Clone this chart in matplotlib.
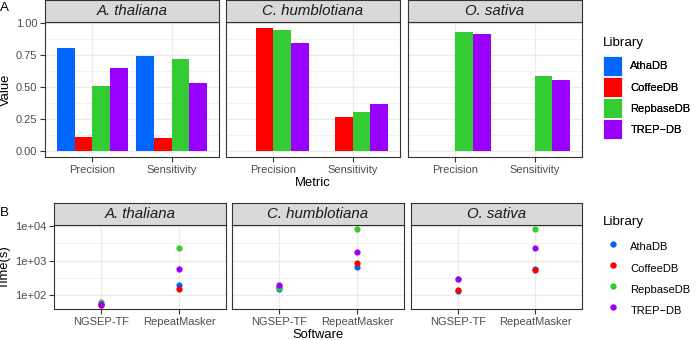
import matplotlib
matplotlib.use("Agg")
import matplotlib.pyplot as plt
import numpy as np
from matplotlib.patches import Patch
from matplotlib.lines import Line2D
from matplotlib.ticker import FixedLocator, NullFormatter

plt.rcParams['font.family'] = ['Liberation Sans', 'DejaVu Sans']

# Data
species = ['A. thaliana', 'C. humblotiana', 'O. sativa']
libraries = ['AthaDB', 'CoffeeDB', 'RepbaseDB', 'TREP-DB']
lib_labels = ['AthaDB', 'CoffeeDB', 'RepbaseDB', 'TREP\u2212DB']
metrics = ['Precision', 'Sensitivity']
software = ['NGSEP-TF', 'RepeatMasker']

# panel A values: [precision, sensitivity] per library, per species
atha_vals = {'AthaDB': [0.805, 0.743], 'CoffeeDB': [0.109, 0.104],
             'RepbaseDB': [0.507, 0.714], 'TREP-DB': [0.649, 0.530]}
chum_vals = {'AthaDB': [0.0, 0.0], 'CoffeeDB': [0.961, 0.263],
             'RepbaseDB': [0.943, 0.300], 'TREP-DB': [0.839, 0.366]}
osat_vals = {'AthaDB': [0.0, 0.0], 'CoffeeDB': [0.0, 0.0],
             'RepbaseDB': [0.927, 0.582], 'TREP-DB': [0.914, 0.553]}

# panel B times (s): [NGSEP-TF, RepeatMasker] per library, per species
atha_time = {'AthaDB': [52, 202], 'CoffeeDB': [51, 155],
             'RepbaseDB': [65, 2300], 'TREP-DB': [56, 563]}
chum_time = {'AthaDB': [150, 662], 'CoffeeDB': [170, 855],
             'RepbaseDB': [165, 8300], 'TREP-DB': [190, 1808]}
osat_time = {'AthaDB': [130, 575], 'CoffeeDB': [142, 518],
             'RepbaseDB': [285, 8200], 'TREP-DB': [287, 2250]}

values = [atha_vals, chum_vals, osat_vals]
times = [atha_time, chum_time, osat_time]

colors = {'AthaDB': '#0066FF', 'CoffeeDB': '#FF0000',
          'RepbaseDB': '#33CC33', 'TREP-DB': '#9900FF'}

W, H = 699, 340
fig = plt.figure(figsize=(W / 100, H / 100), dpi=100)


def px_axes(l, t, r, b):
    return fig.add_axes([l / W, 1 - b / H, (r - l) / W, (b - t) / H])


grid_c = '#EBEBEB'
edge_c = '#333333'
tick_c = '#4D4D4D'


def style_panel(ax):
    for s in ax.spines.values():
        s.set_color(edge_c)
        s.set_linewidth(0.8)
    ax.set_axisbelow(True)
    ax.grid(True, which='major', color=grid_c, lw=0.9)
    ax.grid(True, which='minor', color=grid_c, lw=0.5)
    ax.tick_params(which='major', length=3.5, width=0.8, color=edge_c,
                   labelcolor=tick_c, labelsize=8, pad=2)
    ax.tick_params(which='minor', length=0)


def strip(l, t, r, b, text):
    sax = px_axes(l, t, r, b)
    sax.set_facecolor('#D9D9D9')
    sax.set_xticks([])
    sax.set_yticks([])
    for s in sax.spines.values():
        s.set_color(edge_c)
        s.set_linewidth(0.8)
    sax.text(0.5, 0.48, text, ha='center', va='center', style='italic',
             fontsize=10.8, color='#1A1A1A', transform=sax.transAxes)


# ---- Panel A: bars ----
a_cols = [(45, 219), (226, 400), (408, 582)]
a_top, a_strip, a_bot = 0, 21.7, 157
width = 0.225
offsets = (np.arange(len(libraries)) - 1.5) * width
x = np.arange(len(metrics))
amax = max(max(v) for d in values for v in d.values())

for i, (l, r) in enumerate(a_cols):
    ax = px_axes(l, a_strip, r, a_bot)
    style_panel(ax)
    for j, lib in enumerate(libraries):
        ax.bar(x + offsets[j], values[i][lib], width, color=colors[lib], lw=0)
    ax.set_xlim(-0.6, 1.6)
    ax.set_ylim(-0.05 * amax, amax * 1.05)
    ax.set_xticks(x)
    ax.set_xticklabels(metrics)
    ax.yaxis.set_major_locator(FixedLocator([0, 0.25, 0.5, 0.75, 1.0]))
    ax.yaxis.set_minor_locator(FixedLocator([0.125, 0.375, 0.625, 0.875]))
    if i == 0:
        ax.set_yticklabels(['0.00', '0.25', '0.50', '0.75', '1.00'])
        ax.set_ylabel('Value', fontsize=9.4, labelpad=3)
    else:
        ax.tick_params(axis='y', which='both', left=False, labelleft=False)
    if i == 1:
        ax.set_xlabel('Metric', fontsize=9.4, labelpad=2)
    strip(l, a_top, r, a_strip, species[i])

# ---- Panel B: points on log scale ----
b_cols = [(54, 226), (232, 404), (411, 582)]
b_top, b_strip, b_bot = 203, 225, 309
all_t = np.log10([v for d in times for vals in d.values() for v in vals])
lo, hi = all_t.min(), all_t.max()
rng = hi - lo
xs = np.arange(len(software))

for i, (l, r) in enumerate(b_cols):
    ax = px_axes(l, b_strip, r, b_bot)
    ax.set_yscale('log')
    style_panel(ax)
    for lib in libraries:
        ax.scatter(xs, times[i][lib], s=20, color=colors[lib], lw=0, zorder=3)
    ax.set_xlim(-0.6, 1.6)
    ax.set_ylim(10 ** (lo - 0.05 * rng), 10 ** (hi + 0.05 * rng))
    ax.set_xticks(xs)
    ax.set_xticklabels(software)
    ax.yaxis.set_major_locator(FixedLocator([1e2, 1e3, 1e4]))
    ax.yaxis.set_minor_locator(FixedLocator([10 ** 1.5, 10 ** 2.5, 10 ** 3.5]))
    ax.yaxis.set_minor_formatter(NullFormatter())
    if i == 0:
        ax.set_yticklabels(['1e+02', '1e+03', '1e+04'])
        ax.set_ylabel('Time(s)', fontsize=9.4, labelpad=3)
    else:
        ax.tick_params(axis='y', which='both', left=False, labelleft=False)
    if i == 1:
        ax.set_xlabel('Software', fontsize=9.4, labelpad=2)
    strip(l, b_top, r, b_strip, species[i])

# ---- legends ----
leg_kw = dict(loc='upper left', frameon=False, fontsize=8, handlelength=1.72,
              handleheight=2.39, labelspacing=0.1, handletextpad=0.75,
              borderpad=0, borderaxespad=0)

bar_handles = [Patch(facecolor=colors[lib], edgecolor='white', lw=0.6) for lib in libraries]
leg_a = fig.legend(bar_handles, lib_labels, bbox_to_anchor=(603 / W, 1 - 56 / H), **leg_kw)
fig.text(603 / W, 1 - 43 / H, 'Library', fontsize=9.6, ha='left', va='center')

pt_handles = [Line2D([], [], ls='', marker='o', markersize=4.6,
                     markerfacecolor=colors[lib], markeredgewidth=0) for lib in libraries]
leg_b = fig.legend(pt_handles, lib_labels, bbox_to_anchor=(603 / W, 1 - 237 / H), **leg_kw)
fig.text(603 / W, 1 - 221.7 / H, 'Library', fontsize=9.6, ha='left', va='center')
fig.add_artist(leg_a)

# panel letters
fig.text(4 / W, 1 - 8 / H, 'A', fontsize=9.6, ha='center', va='center')
fig.text(4 / W, 1 - 213 / H, 'B', fontsize=9.6, ha='center', va='center')

fig.savefig('out.png', dpi=100)
